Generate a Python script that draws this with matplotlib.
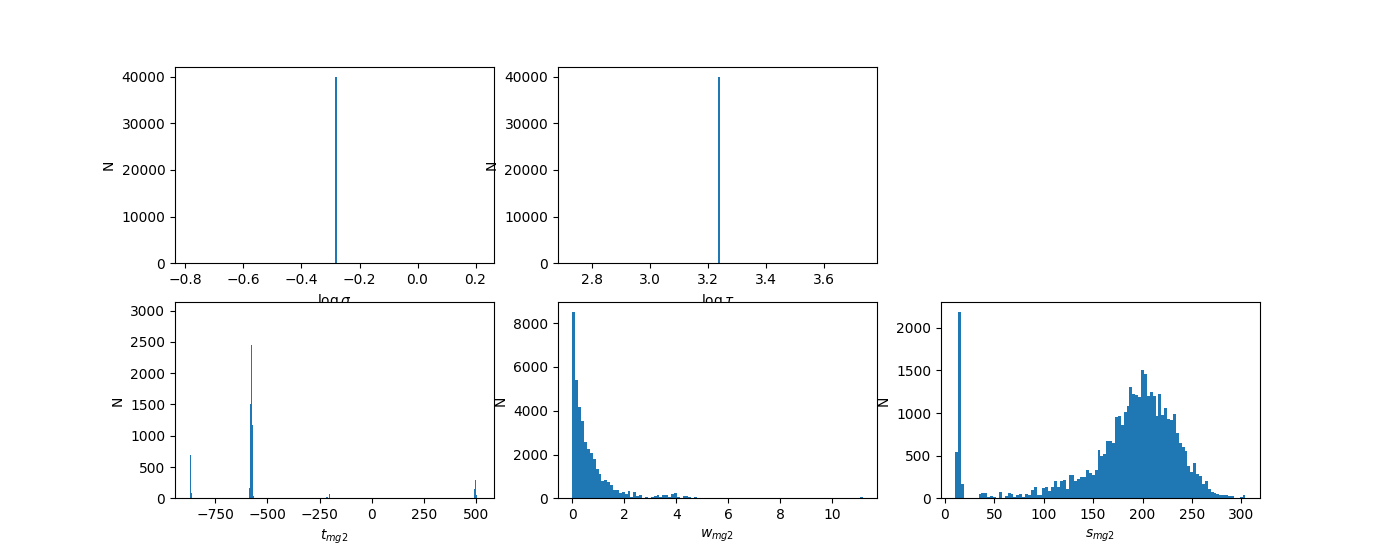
import matplotlib
matplotlib.use('Agg')
import matplotlib.pyplot as plt
import numpy as np

# top row: every sample has the same value
n_samples = 40000
log_sigma_value = -0.286
log_tau_value = 3.232

# t_mg2: only the spikes that show up in the reference (very thin bins)
t_range = (-872, 516)
t_bins = 250
t_centers = [-869, -864, -586, -580.5, -575, -569.5, -564, -213, -202, 491, 496, 502]
t_counts = [700, 90, 170, 1500, 2450, 1180, 40, 20, 70, 150, 300, 60]
t_ylim_top = 3130  # reference autoscaled to a peak that is hidden by sub-pixel bins

# w_mg2: 100 bins between w_min and w_max
w_min, w_max = 0.0, 11.17
w_counts = ([8515, 5413, 4177, 3536, 2577, 2257, 2060, 1800, 1343, 1114,
             795, 841, 735, 626, 384, 384, 261, 292, 201, 338,
             50, 292, 110, 155, 0, 60, 15, 60, 110, 155,
             80, 170, 170, 80, 200, 260, 60, 0, 110, 110,
             50, 0, 60] + [0] * 56 + [60])

# s_mg2: 100 bins between s_min and s_max
s_min, s_max = 10.7, 304.1
s_counts = [544, 2187, 168, 0, 0, 0, 0, 8, 51, 67,
            67, 16, 27, 16, 0, 74, 0, 27, 67, 51,
            16, 43, 51, 16, 51, 39, 98, 129, 43, 43,
            121, 133, 90, 133, 203, 137, 203, 215, 110, 278,
            278, 203, 227, 254, 254, 333, 293, 278, 333, 567,
            497, 520, 673, 673, 649, 958, 966, 861, 1013, 1084,
            1307, 1224, 1213, 1193, 1506, 1459, 1197, 1248, 1201, 966,
            1221, 978, 1064, 931, 919, 990, 763, 645, 606, 556,
            379, 309, 411, 286, 258, 168, 203, 106, 74, 59,
            51, 43, 39, 39, 27, 31, 8, 8, 16, 39]

fig, axes = plt.subplots(2, 3, figsize=(14, 5.6))

ax = axes[0, 0]
ax.hist([log_sigma_value], bins=100, weights=[n_samples])
ax.set_xlabel(r'$\log\sigma$')
ax.set_ylabel('N')

ax = axes[0, 1]
ax.hist([log_tau_value], bins=100, weights=[n_samples])
ax.set_xlabel(r'$\log\tau$')
ax.set_ylabel('N')

axes[0, 2].axis('off')

ax = axes[1, 0]
ax.hist(t_centers, bins=t_bins, range=t_range, weights=t_counts)
ax.set_ylim(0, t_ylim_top)
ax.set_xlabel(r'$t_{mg2}$')
ax.set_ylabel('N')

ax = axes[1, 1]
w_edges = np.linspace(w_min, w_max, len(w_counts) + 1)
ax.hist(w_edges[:-1], bins=w_edges, weights=w_counts)
ax.set_xlabel(r'$w_{mg2}$')
ax.set_ylabel('N')

ax = axes[1, 2]
s_edges = np.linspace(s_min, s_max, len(s_counts) + 1)
ax.hist(s_edges[:-1], bins=s_edges, weights=s_counts)
ax.set_xlabel(r'$s_{mg2}$')
ax.set_ylabel('N')

fig.savefig('out.png', dpi=100)
